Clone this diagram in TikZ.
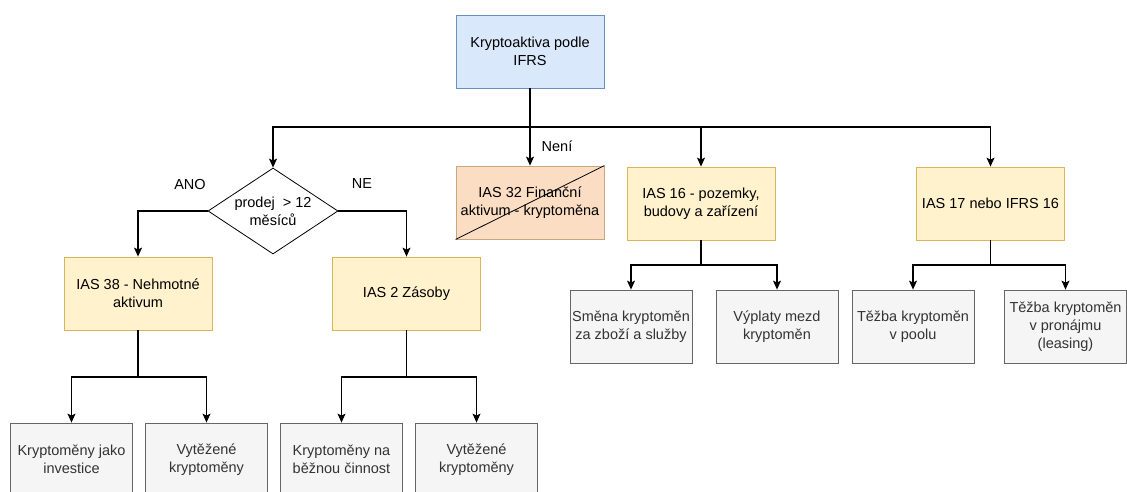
\documentclass[tikz,border=0pt]{standalone}
\usepackage{fontspec}
\setmainfont{Liberation Sans}
\usetikzlibrary{shapes.geometric,arrows.meta}
\definecolor{bluefill}{HTML}{DAE8FC}
\definecolor{bluedraw}{HTML}{6C8EBF}
\definecolor{yelfill}{HTML}{FFF2CC}
\definecolor{yeldraw}{HTML}{D6B656}
\definecolor{peachfill}{HTML}{FADDC2}
\definecolor{peachdraw}{HTML}{C9A57E}
\definecolor{greyfill}{HTML}{F5F5F5}
\definecolor{greydraw}{HTML}{666666}
\definecolor{greytext}{HTML}{333333}
\begin{document}
\begin{tikzpicture}[x=1pt,y=-1pt,
  txt/.style={font=\fontsize{14.5}{18}\selectfont, align=center},
  box/.style={txt, draw, line width=0.8pt, minimum width=148pt, minimum height=73pt, inner sep=1pt},
  bluebox/.style={box, fill=bluefill, draw=bluedraw},
  yelbox/.style={box, fill=yelfill, draw=yeldraw},
  peachbox/.style={box, fill=peachfill, draw=peachdraw},
  greybox/.style={box, fill=greyfill, draw=greydraw, text=greytext, minimum width=122pt},
  decision/.style={diamond, draw=black, line width=0.8pt, fill=white, minimum width=130pt, minimum height=86pt, inner sep=0pt},
  lbl/.style={txt, inner sep=0pt},
  arr/.style={line width=1.1pt, -{Stealth[length=9pt,width=8pt,inset=2pt]}}]
\useasboundingbox (0,0) rectangle (1127,492);
\clip (0,0) rectangle (1127,492);
\fill[white] (0,0) rectangle (1127,492);

% top level
\node[bluebox] (root) at (530,51.5) {Kryptoaktiva podle\\IFRS};
\node[peachbox] (fin) at (530,202.5) {IAS 32 Finanční\\aktivum - kryptoměna};
\draw[line width=0.8pt] (fin.south west) -- (fin.north east);
\node[yelbox] (ppe) at (701,203.5) {IAS 16 - pozemky,\\budovy a zařízení};
\node[yelbox] (lease) at (990.5,203.5) {IAS 17 nebo IFRS 16};
\node[decision] (dec) at (273,211) {};
\node[lbl] (dectext) at (dec.center) {prodej\ \ > 12\\měsíců};

% second level
\node[yelbox] (intang) at (138,293.5) {IAS 38 - Nehmotné\\aktivum};
\node[yelbox] (inv) at (406.5,293.5) {IAS 2 Zásoby};

% leaves
\node[greybox] (swap) at (631,326.5) {Směna kryptoměn\\za zboží a služby};
\node[greybox] (wage) at (777,326.5) {Výplaty mezd\\kryptoměn};
\node[greybox] (pool) at (913,326.5) {Těžba kryptoměn\\v poolu};
\node[greybox] (rent) at (1065.5,326.5) {Těžba kryptoměn\\v pronájmu\\(leasing)};
\node[greybox] (invest) at (71.5,459.5) {Kryptoměny jako\\investice};
\node[greybox] (mined1) at (206.5,459.5) {Vytěžené\\kryptoměny};
\node[greybox] (oper) at (341.5,459.5) {Kryptoměny na\\běžnou činnost};
\node[greybox] (mined2) at (476.5,459.5) {Vytěžené\\kryptoměny};

% labels
\node[lbl] (ano) at (190,185) {ANO};
\node[lbl] (ne) at (362,184) {NE};
\node[lbl] (neni) at (557,146) {Není};

% connectors
\coordinate (bus) at (530,127);
\draw[arr] (root.south) -- (fin.north);
\draw[arr] (root.south) -- (bus) -| (dec.north);
\draw[arr] (root.south) -- (bus) -| (ppe.north);
\draw[arr] (root.south) -- (bus) -| (lease.north);
\draw[arr] (dec.west) -| (intang.north);
\draw[arr] (dec.east) -| (inv.north);

\coordinate (j38) at (138,377);
\draw[arr] (intang.south) -- (j38) -| (invest.north);
\draw[arr] (intang.south) -- (j38) -| (mined1.north);
\coordinate (j2) at (406.5,377);
\draw[arr] (inv.south) -- (j2) -| (oper.north);
\draw[arr] (inv.south) -- (j2) -| (mined2.north);
\coordinate (j16) at (701,265);
\draw[arr] (ppe.south) -- (j16) -| (swap.north);
\draw[arr] (ppe.south) -- (j16) -| (wage.north);
\coordinate (j17) at (990.5,265);
\draw[arr] (lease.south) -- (j17) -| (pool.north);
\draw[arr] (lease.south) -- (j17) -| (rent.north);
\end{tikzpicture}
\end{document}
